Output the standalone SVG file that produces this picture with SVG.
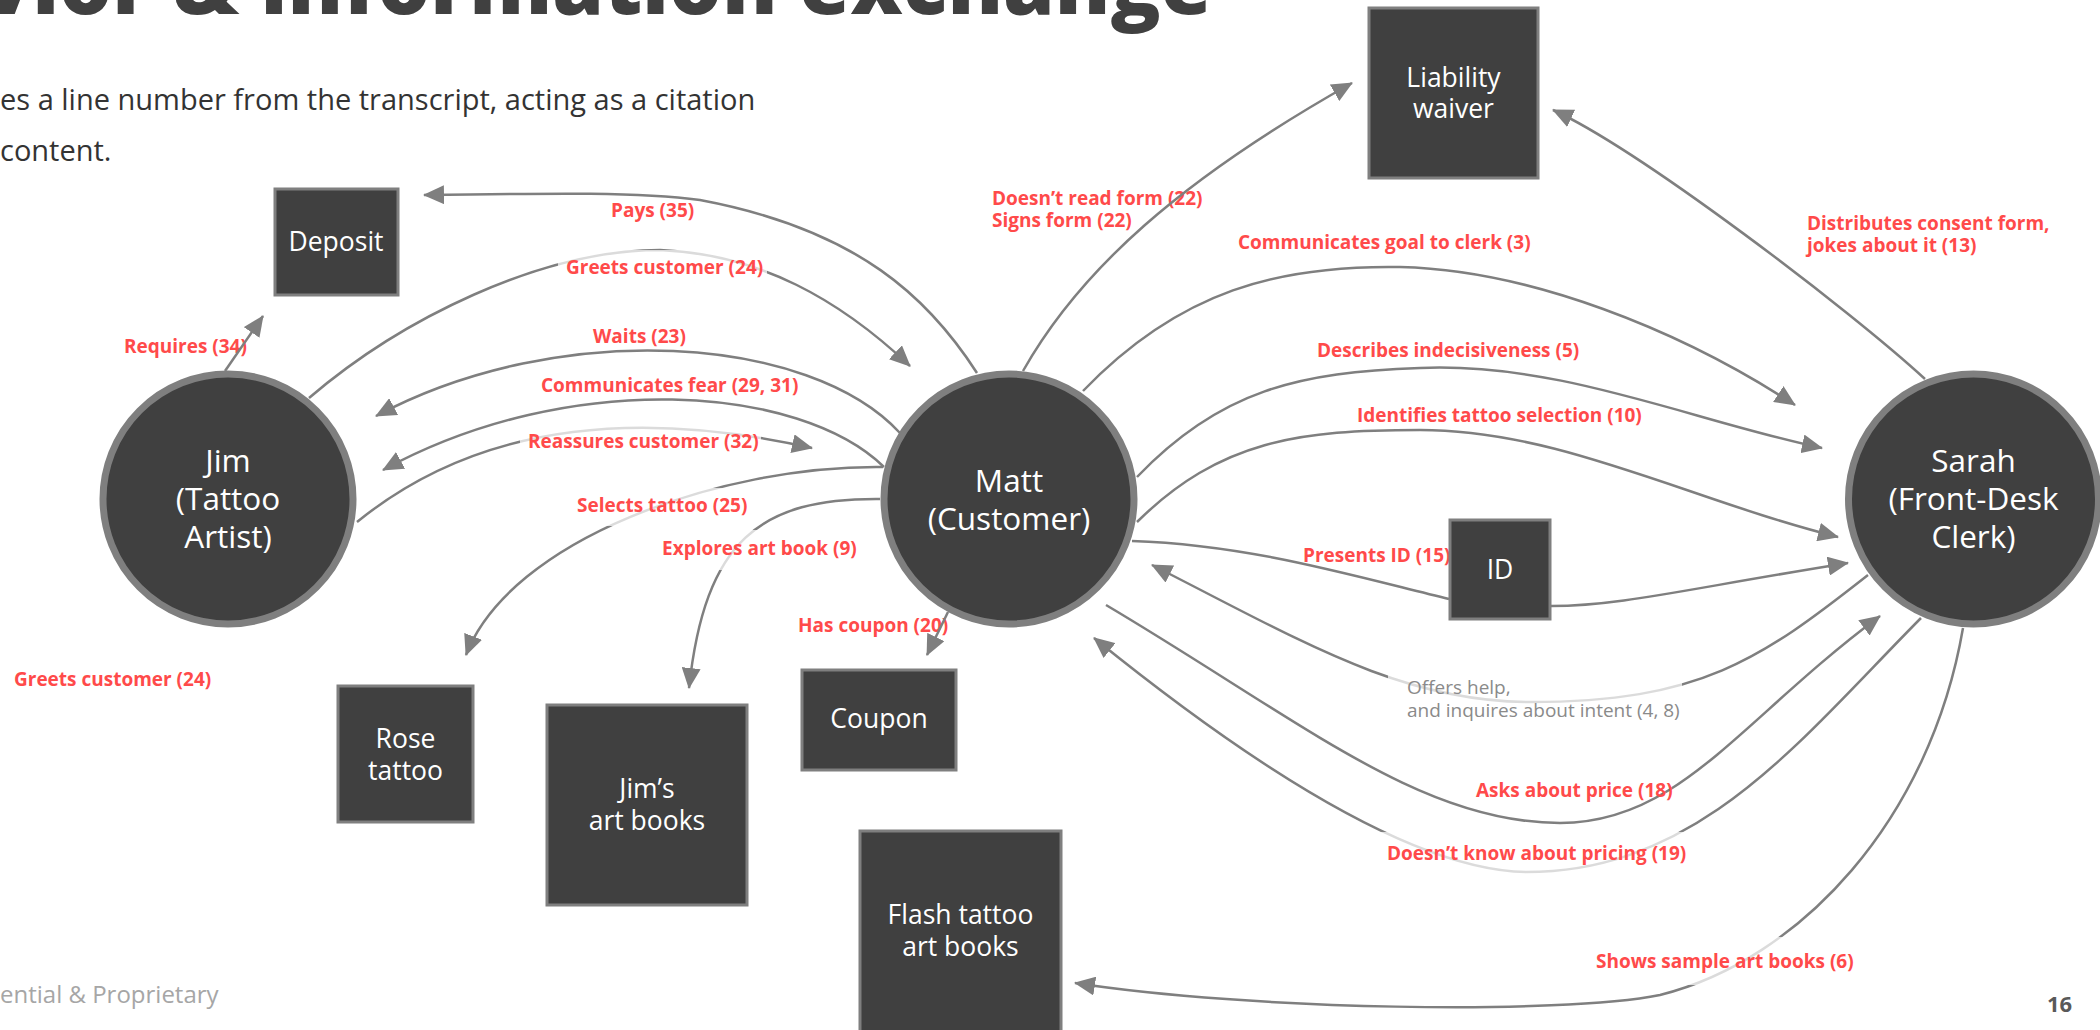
<svg xmlns="http://www.w3.org/2000/svg" width="2100" height="1030" viewBox="0 0 2100 1030">
<defs>
<marker id="ah" viewBox="0 0 21 19" refX="20" refY="9.5" markerWidth="21" markerHeight="19" markerUnits="userSpaceOnUse" orient="auto"><path d="M0,0 L21,9.5 L0,19 z" fill="#7f7f7f"/></marker>
<style>
.node{fill:#404040;stroke:#7f7f7f;}
.circ{stroke-width:7;}
.box{stroke-width:3;}
.ct{font-family:"Open Sans","Liberation Sans",sans-serif;font-size:31.5px;fill:#ffffff;text-anchor:middle;}
.bt{font-family:"Open Sans","Liberation Sans",sans-serif;font-size:26.5px;fill:#ffffff;text-anchor:middle;}
.conn path{fill:none;stroke:#7f7f7f;stroke-width:2.5;}
.arr{marker-end:url(#ah);}
.lb{font-family:"Open Sans","Liberation Sans",sans-serif;font-size:19px;font-weight:700;fill:#ff4a4a;}
.lg{font-family:"Open Sans","Liberation Sans",sans-serif;font-size:19px;fill:#8a8a8a;}
.bg{fill:#ffffff;fill-opacity:0.72;}
</style>
</defs>
<rect width="2100" height="1030" fill="#ffffff"/>
<text x="1212" y="14" text-anchor="end" font-family="'Open Sans','Liberation Sans',sans-serif" font-size="83" font-weight="800" fill="#404040">vior &amp; information exchange</text>
<text x="0" y="110" font-family="'Open Sans','Liberation Sans',sans-serif" font-size="29" fill="#333333">es a line number from the transcript, acting as a citation</text>
<text x="0" y="161" font-family="'Open Sans','Liberation Sans',sans-serif" font-size="29" fill="#333333">content.</text>
<text x="0" y="1003" font-family="'Open Sans','Liberation Sans',sans-serif" font-size="24" fill="#a6a6a6">ential &amp; Proprietary</text>
<text x="2047" y="1012" font-family="'Open Sans','Liberation Sans',sans-serif" font-size="22" font-weight="700" fill="#595959">16</text>

<g id="labels-under">
<text class="lb" x="124" y="353">Requires (34)</text>
<text class="lb" x="798" y="632">Has coupon (20)</text>
<text class="lb" x="992" y="205">Doesn’t read form (22)</text>
</g>

<g id="connectors" class="conn">
<path class="arr" d="M977 373 C930 300 860 230 700 200 C640 192 560 193 424 195"/>
<path class="arr" d="M309 398 C400 320 540 250 660 250 C760 254 840 300 910 366"/>
<path class="arr" d="M225 371 L263 316"/>
<path class="arr" d="M900 433 C810 335 560 318 376 416"/>
<path class="arr" d="M884 467 C800 385 570 368 383 470"/>
<path class="arr" d="M357 522 C470 430 620 405 812 448"/>
<path class="arr" d="M883 467 C720 465 510 540 466 655"/>
<path class="arr" d="M880 499 C760 498 705 540 689 688"/>
<path class="arr" d="M948 612 L927 655"/>
<path class="arr" d="M1023 371 C1080 270 1180 180 1352 83"/>
<path class="arr" d="M1083 391 C1180 290 1280 265 1400 267 C1530 270 1680 330 1795 405"/>
<path class="arr" d="M1137 477 C1220 390 1300 372 1420 368 C1560 362 1690 420 1822 448"/>
<path class="arr" d="M1137 522 C1220 440 1300 430 1420 430 C1560 430 1690 500 1838 537"/>
<path d="M1132 541 C1250 545 1350 575 1449 599"/>
<path class="arr" d="M1551 606 C1620 606 1680 590 1848 563"/>
<path class="arr" d="M1868 575 C1760 660 1700 702 1530 702 C1400 702 1300 640 1152 565"/>
<path class="arr" d="M1106 605 C1300 720 1420 823 1560 823 C1680 823 1740 720 1880 616"/>
<path class="arr" d="M1921 618 C1800 740 1700 872 1526 872 C1400 870 1220 740 1094 638"/>
<path class="arr" d="M1963 628 C1930 820 1800 960 1660 995 C1560 1015 1250 1010 1075 983"/>
<path class="arr" d="M1925 379 C1850 310 1640 150 1553 110"/>
</g>

<g id="labels">
<text class="lb" x="611" y="217">Pays (35)</text>
<rect class="bg" x="558" y="250" width="209" height="38"/>
<text class="lb" x="566" y="274">Greets customer (24)</text>
<text class="lb" x="593" y="343">Waits (23)</text>
<text class="lb" x="541" y="392">Communicates fear (29, 31)</text>
<rect class="bg" x="520" y="424" width="241" height="38"/>
<text class="lb" x="528" y="448">Reassures customer (32)</text>
<rect class="bg" x="569" y="488" width="184" height="38"/>
<text class="lb" x="577" y="512">Selects tattoo (25)</text>
<rect class="bg" x="654" y="530" width="206" height="40"/>
<text class="lb" x="662" y="555">Explores art book (9)</text>
<text class="lb" x="14" y="686">Greets customer (24)</text>
<text class="lb" x="992" y="227">Signs form (22)</text>
<text class="lb" x="1238" y="249">Communicates goal to clerk (3)</text>
<text class="lb" x="1317" y="357">Describes indecisiveness (5)</text>
<text class="lb" x="1357" y="422">Identifies tattoo selection (10)</text>
<text class="lb" x="1303" y="562">Presents ID (15)</text>
<text class="lb" x="1807" y="230">Distributes consent form,</text>
<text class="lb" x="1807" y="252">jokes about it (13)</text>
<rect class="bg" x="1388" y="672" width="294" height="56"/>
<text class="lg" x="1407" y="694">Offers help,</text>
<text class="lg" x="1407" y="717">and inquires about intent (4, 8)</text>
<text class="lb" x="1476" y="797">Asks about price (18)</text>
<rect class="bg" x="1379" y="832" width="309" height="42"/>
<text class="lb" x="1387" y="860">Doesn’t know about pricing (19)</text>
<rect class="bg" x="1588" y="937" width="270" height="48"/>
<text class="lb" x="1596" y="968">Shows sample art books (6)</text>
</g>

<g id="node-jim"><circle class="node circ" cx="228" cy="499" r="125"/><text class="ct" x="228" y="472">Jim</text><text class="ct" x="228" y="510">(Tattoo</text><text class="ct" x="228" y="548">Artist)</text></g>
<g id="node-matt"><circle class="node circ" cx="1009" cy="499" r="125"/><text class="ct" x="1009" y="492">Matt</text><text class="ct" x="1009" y="530">(Customer)</text></g>
<g id="node-sarah"><circle class="node circ" cx="1973.5" cy="499" r="125"/><text class="ct" x="1973.5" y="472">Sarah</text><text class="ct" x="1973.5" y="510">(Front-Desk</text><text class="ct" x="1973.5" y="548">Clerk)</text></g>
<g id="node-deposit"><rect class="node box" x="275" y="189" width="123" height="106"/><text class="bt" x="336" y="251">Deposit</text></g>
<g id="node-liability"><rect class="node box" x="1369" y="8" width="169" height="170"/><text class="bt" x="1453.5" y="87">Liability</text><text class="bt" x="1453.5" y="118">waiver</text></g>
<g id="node-id"><rect class="node box" x="1450" y="520" width="100" height="99"/><text class="bt" x="1500" y="579">ID</text></g>
<g id="node-coupon"><rect class="node box" x="802" y="670" width="154" height="100"/><text class="bt" x="879" y="728">Coupon</text></g>
<g id="node-rose"><rect class="node box" x="338" y="686" width="135" height="136"/><text class="bt" x="405.5" y="748">Rose</text><text class="bt" x="405.5" y="780">tattoo</text></g>
<g id="node-jimsbooks"><rect class="node box" x="547" y="705" width="200" height="200"/><text class="bt" x="647" y="798">Jim’s</text><text class="bt" x="647" y="830">art books</text></g>
<g id="node-flash"><rect class="node box" x="860" y="831" width="201" height="210"/><text class="bt" x="960.5" y="924">Flash tattoo</text><text class="bt" x="960.5" y="956">art books</text></g>
</svg>
